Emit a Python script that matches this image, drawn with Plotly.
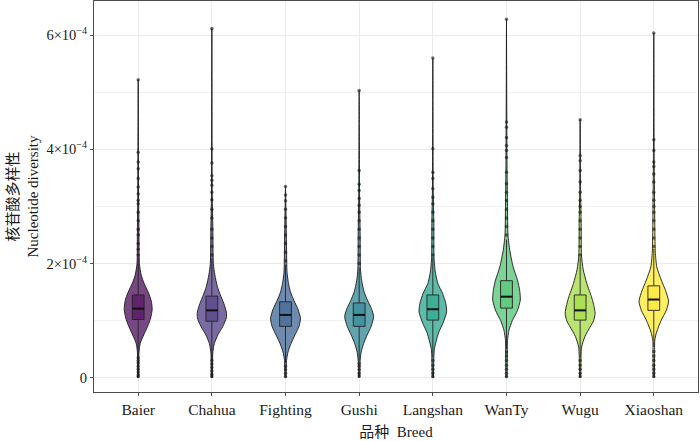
import plotly.graph_objects as go

# ---------------- data (values in units of 1e-4) ----------------
breeds = ["Baier", "Chahua", "Fighting", "Gushi", "Langshan", "WanTy", "Wugu", "Xiaoshan"]
colors = ["#440154", "#46337E", "#365C8D", "#277F8E", "#1FA187", "#4AC16D", "#9FDA3A", "#FDE725"]

q1_vals = [1.02, 0.99, 0.90, 0.90, 1.01, 1.22, 1.01, 1.18]
median_vals = [1.21, 1.18, 1.10, 1.10, 1.20, 1.42, 1.18, 1.37]
q3_vals = [1.45, 1.43, 1.33, 1.31, 1.45, 1.70, 1.45, 1.61]
lower_fence = [0.38, 0.33, 0.26, 0.29, 0.35, 0.50, 0.35, 0.54]
upper_fence = [2.10, 2.09, 1.98, 1.93, 2.11, 2.42, 2.11, 2.26]
max_vals = [5.22, 6.12, 3.35, 5.03, 5.60, 6.28, 4.52, 6.04]

# violin outlines: value levels and the density (half-width, arbitrary units) read at each level
violin_levels = [
    [0, 0.45, 0.60, 0.75, 0.90, 1.05, 1.20, 1.35, 1.50, 1.65, 1.80, 2.00, 2.60, 3.20, 5.22],
    [0, 0.45, 0.60, 0.75, 0.90, 1.05, 1.15, 1.30, 1.45, 1.60, 1.80, 2.00, 2.60, 3.20, 6.12],
    [0, 0.30, 0.45, 0.60, 0.75, 0.90, 1.04, 1.20, 1.35, 1.50, 1.65, 1.85, 2.30, 2.90, 3.35],
    [0, 0.30, 0.45, 0.60, 0.75, 0.90, 1.07, 1.20, 1.35, 1.50, 1.70, 1.90, 2.50, 3.20, 5.03],
    [0, 0.35, 0.50, 0.65, 0.80, 0.95, 1.15, 1.30, 1.48, 1.65, 1.85, 2.10, 2.70, 3.30, 5.60],
    [0, 0.45, 0.65, 0.83, 1.00, 1.18, 1.36, 1.53, 1.71, 1.94, 2.23, 2.50, 3.00, 3.80, 6.28],
    [0, 0.30, 0.54, 0.72, 0.89, 1.00, 1.13, 1.28, 1.42, 1.65, 1.90, 2.15, 2.70, 3.30, 4.52],
    [0, 0.40, 0.66, 0.80, 1.01, 1.18, 1.34, 1.53, 1.71, 1.94, 2.20, 2.50, 3.00, 3.80, 6.04],
]
violin_density = [
    [0.6, 0.8, 2.0, 5.5, 9.5, 12.5, 14.0, 13.0, 10.0, 6.0, 3.0, 1.2, 0.8, 0.4, 0],
    [0.6, 1.0, 2.5, 6.0, 11.0, 14.5, 14.5, 12.0, 8.5, 5.5, 3.0, 1.5, 1.0, 0.4, 0],
    [0.6, 1.0, 2.5, 5.5, 9.5, 13.5, 15.0, 12.5, 8.5, 5.0, 3.0, 1.5, 1.0, 0.5, 0],
    [0.6, 1.0, 2.0, 4.5, 8.0, 12.0, 14.5, 12.5, 8.5, 5.0, 2.5, 1.3, 1.0, 0.4, 0],
    [0.6, 1.0, 1.5, 3.5, 6.0, 10.0, 13.8, 13.0, 9.7, 5.0, 2.5, 1.2, 1.0, 0.4, 0],
    [0.6, 0.8, 1.0, 2.5, 5.8, 11.0, 13.8, 13.2, 11.0, 6.7, 3.3, 1.5, 1.0, 0.5, 0],
    [0.6, 0.8, 1.5, 4.7, 10.0, 13.5, 15.0, 13.5, 11.3, 6.7, 3.0, 1.3, 1.0, 0.4, 0],
    [0.6, 0.8, 1.0, 2.8, 7.5, 12.5, 14.8, 11.7, 7.5, 3.0, 1.5, 1.1, 0.8, 0.4, 0],
]

outliers = [
    [0.02, 0.05, 0.10, 0.15, 0.20, 0.26, 0.30, 0.35, 2.15, 2.25, 2.35, 2.50, 2.60, 2.75, 2.90, 3.05, 3.11, 3.22, 3.34, 3.49, 3.66, 3.78, 3.95, 5.22],
    [0.02, 0.06, 0.12, 0.18, 0.24, 0.30, 2.15, 2.30, 2.45, 2.60, 2.80, 2.95, 3.12, 3.25, 3.37, 3.46, 3.54, 3.76, 4.01, 6.12],
    [0.02, 0.08, 0.14, 0.20, 2.05, 2.20, 2.35, 2.50, 2.65, 2.80, 2.95, 3.10, 3.20, 3.35],
    [0.03, 0.08, 0.14, 0.20, 0.25, 2.00, 2.15, 2.30, 2.45, 2.60, 2.75, 2.90, 3.02, 3.14, 3.28, 3.39, 3.63, 5.03],
    [0.02, 0.08, 0.15, 0.22, 0.30, 2.15, 2.30, 2.45, 2.60, 2.75, 2.90, 3.05, 3.16, 3.31, 3.49, 3.60, 4.01, 5.60],
    [0.02, 0.08, 0.15, 0.22, 0.30, 0.38, 0.45, 2.50, 2.65, 2.80, 2.95, 3.10, 3.25, 3.40, 3.60, 3.86, 3.98, 4.07, 4.21, 4.39, 4.48, 6.28],
    [0.02, 0.08, 0.15, 0.22, 0.30, 2.15, 2.30, 2.45, 2.60, 2.75, 2.90, 3.00, 3.11, 3.25, 3.43, 3.63, 3.80, 3.89, 4.52],
    [0.02, 0.08, 0.15, 0.22, 0.30, 0.38, 0.46, 2.30, 2.45, 2.60, 2.75, 2.90, 3.00, 3.11, 3.25, 3.43, 3.57, 3.70, 3.78, 3.98, 4.17, 6.04],
]

y_tickvals = [0, 2, 4, 6]
y_ticktext = ["0", "2×10<sup>−4</sup>", "4×10<sup>−4</sup>", "6×10<sup>−4</sup>"]
y_minor = [1, 3, 5]

# ---------------- figure ----------------
SERIF = "Liberation Serif, Times New Roman, Noto Sans CJK SC, serif"
VIOLIN_HALF = 0.2035          # max half width in category units
BOX_HALF = 0.08
dens_max = max(max(d) for d in violin_density)


def blend(hex_color, a, base=(255, 255, 255)):
    h = hex_color.lstrip("#")
    c = [int(h[k:k + 2], 16) for k in (0, 2, 4)]
    return [a * c[j] + (1 - a) * base[j] for j in range(3)]


def css(rgb):
    return "rgb({},{},{})".format(*[int(round(v)) for v in rgb])


fig = go.Figure()

for i, name in enumerate(breeds):
    vio_rgb = blend(colors[i], 0.72)
    box_rgb = blend(colors[i], 0.5, vio_rgb)

    lv = violin_levels[i]
    dn = [d / dens_max * VIOLIN_HALF for d in violin_density[i]]
    xs = [i + d for d in dn] + [i - d for d in reversed(dn)]
    ys = lv + list(reversed(lv))
    fig.add_trace(go.Scatter(
        x=xs, y=ys, mode="lines", fill="toself", fillcolor=css(vio_rgb),
        line=dict(color="#1a1a1a", width=0.9, shape="spline", smoothing=0.6),
        hoverinfo="skip", showlegend=False))

    # whiskers
    fig.add_trace(go.Scatter(
        x=[i, i, None, i, i],
        y=[q3_vals[i], upper_fence[i], None, q1_vals[i], lower_fence[i]],
        mode="lines", line=dict(color="#222222", width=0.9),
        hoverinfo="skip", showlegend=False))

    # outliers
    fig.add_trace(go.Scatter(
        x=[i] * len(outliers[i]), y=outliers[i], mode="markers",
        marker=dict(color="rgba(20,20,20,0.6)", size=3.5, line=dict(width=0)),
        hoverinfo="skip", showlegend=False))

    # box
    fig.add_trace(go.Scatter(
        x=[i - BOX_HALF, i + BOX_HALF, i + BOX_HALF, i - BOX_HALF, i - BOX_HALF],
        y=[q1_vals[i], q1_vals[i], q3_vals[i], q3_vals[i], q1_vals[i]],
        mode="lines", fill="toself", fillcolor=css(box_rgb),
        line=dict(color="#222222", width=0.9),
        hoverinfo="skip", showlegend=False))

    # median
    fig.add_trace(go.Scatter(
        x=[i - BOX_HALF, i + BOX_HALF], y=[median_vals[i]] * 2,
        mode="lines", line=dict(color="#111111", width=2),
        hoverinfo="skip", showlegend=False))

axis_common = dict(
    showline=True, linecolor="#4d4d4d", linewidth=1, mirror=True,
    ticks="outside", ticklen=3, tickcolor="#4d4d4d",
    gridcolor="#EBEBEB", gridwidth=1, zeroline=False,
)

fig.update_layout(
    width=700, height=441,
    margin=dict(l=94, r=2, t=1, b=49),
    paper_bgcolor="white", plot_bgcolor="white",
    showlegend=False,
    xaxis=dict(
        range=[-0.6, 7.6], tickvals=list(range(len(breeds))), ticktext=breeds,
        tickfont=dict(family=SERIF, size=15.5, color="#1a1a1a"),
        title=dict(text="品种  Breed", standoff=9,
                   font=dict(family=SERIF, size=15, color="#1a1a1a")),
        **axis_common),
    yaxis=dict(
        range=[-0.25, 6.6], tickvals=y_tickvals, ticktext=y_ticktext,
        tickfont=dict(family=SERIF, size=14.5, color="#1a1a1a"),
        minor=dict(tickvals=y_minor, showgrid=True, gridcolor="#F2F2F2", gridwidth=0.6, ticks=""),
        title=dict(text="核苷酸多样性<br>Nucleotide diversity", standoff=4,
                   font=dict(family=SERIF, size=15, color="#1a1a1a")),
        **axis_common),
)

fig.write_html("out.html", config={"displayModeBar": False},
               post_script="document.body.style.margin='0';document.body.style.overflow='hidden';")
